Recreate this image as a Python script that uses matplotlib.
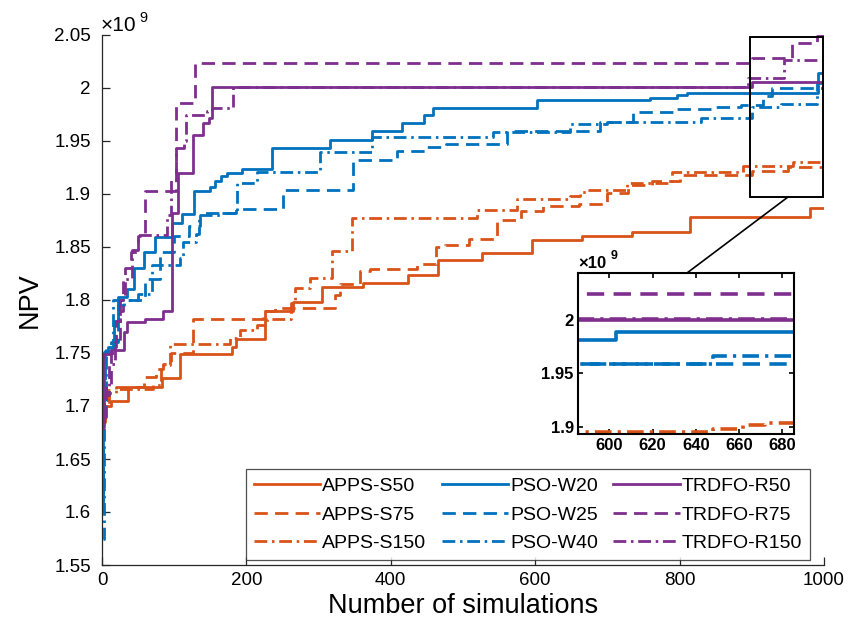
import matplotlib
matplotlib.use("Agg")
import matplotlib.pyplot as plt
from matplotlib.ticker import FuncFormatter, FixedLocator
from matplotlib.patches import Rectangle
from matplotlib.lines import Line2D

plt.rcParams['font.family'] = ['Liberation Sans', 'DejaVu Sans']

# ---------------- data (NPV in units of 1e9) ----------------
apps_s50_x = [1, 4, 13, 36, 83, 108, 180, 186, 226, 265, 305, 362, 424, 465, 526, 596, 665, 734, 814, 980]
apps_s50_y = [1.686, 1.700, 1.705, 1.7176, 1.726, 1.749, 1.756, 1.763, 1.790, 1.798, 1.812, 1.816, 1.824, 1.8377, 1.844, 1.857, 1.860, 1.8645, 1.878, 1.887]

apps_s75_x = [1, 3, 8, 20, 58, 75, 85, 95, 126, 223, 240, 323, 330, 357, 371, 436, 463, 475, 508, 547, 580, 611, 660, 699, 729, 762, 800, 900, 950]
apps_s75_y = [1.69, 1.70, 1.715, 1.718, 1.727, 1.735, 1.740, 1.750, 1.782, 1.790, 1.792, 1.805, 1.815, 1.827, 1.829, 1.834, 1.850, 1.852, 1.858, 1.8755, 1.884, 1.8887, 1.8906, 1.9006, 1.9085, 1.912, 1.918, 1.922, 1.9258]

apps_s150_x = [1, 4, 10, 20, 70, 82, 94, 177, 191, 214, 228, 262, 267, 288, 318, 346, 519, 575, 648, 662, 672, 727, 789, 888, 957]
apps_s150_y = [1.685, 1.700, 1.712, 1.716, 1.720, 1.739, 1.7585, 1.764, 1.772, 1.776, 1.782, 1.797, 1.811, 1.8208, 1.8465, 1.877, 1.8845, 1.8955, 1.898, 1.902, 1.9037, 1.9107, 1.921, 1.926, 1.9305]

pso_w20_x = [1, 2, 3, 8, 17, 22, 34, 45, 58, 73, 97, 111, 127, 150, 157, 165, 173, 194, 235, 316, 374, 415, 446, 458, 603, 759, 796, 810, 992]
pso_w20_y = [1.600, 1.680, 1.751, 1.7555, 1.780, 1.803, 1.810, 1.830, 1.845, 1.8597, 1.8724, 1.881, 1.903, 1.907, 1.912, 1.917, 1.9195, 1.924, 1.943, 1.951, 1.9597, 1.967, 1.9745, 1.981, 1.9887, 1.991, 1.993, 1.9956, 2.0138]

pso_w25_x = [1, 2, 4, 12, 22, 30, 60, 80, 100, 120, 136, 186, 251, 348, 408, 450, 477, 561, 690, 735, 795, 850, 885, 915, 928]
pso_w25_y = [1.610, 1.700, 1.752, 1.760, 1.795, 1.800, 1.820, 1.845, 1.860, 1.870, 1.882, 1.8856, 1.904, 1.932, 1.9406, 1.9445, 1.947, 1.959, 1.968, 1.977, 1.980, 1.982, 1.984, 1.992, 2.000]

pso_w40_x = [1, 3, 5, 15, 50, 69, 108, 112, 130, 135, 165, 187, 214, 302, 374, 541, 648, 700, 830, 900, 940, 990]
pso_w40_y = [1.575, 1.700, 1.755, 1.800, 1.8057, 1.833, 1.840, 1.855, 1.862, 1.880, 1.882, 1.910, 1.921, 1.940, 1.954, 1.9588, 1.9665, 1.968, 1.972, 1.982, 1.985, 2.005]

trdfo_r50_x = [1, 2, 3, 13, 30, 34, 60, 84, 96.5, 105, 126, 140, 148, 152, 900]
trdfo_r50_y = [1.679, 1.7466, 1.749, 1.7528, 1.770, 1.7795, 1.782, 1.790, 1.8824, 1.9195, 1.9557, 1.9667, 1.972, 2.0005, 2.006]

trdfo_r75_x = [1, 5, 12, 20, 25, 32, 40, 50, 59.6, 102, 129, 900, 955, 990]
trdfo_r75_y = [1.690, 1.720, 1.750, 1.780, 1.800, 1.830, 1.845, 1.860, 1.903, 1.986, 2.024, 2.028, 2.0427, 2.049]

trdfo_r150_x = [1, 3, 10, 18, 25, 29, 42, 50, 90, 95, 102, 114, 117, 145, 152, 182, 895, 945]
trdfo_r150_y = [1.685, 1.710, 1.740, 1.760, 1.790, 1.820, 1.847, 1.8613, 1.880, 1.913, 1.943, 1.950, 1.975, 1.978, 1.9808, 2.0012, 2.009, 2.026]

labels = ['APPS-S50', 'APPS-S75', 'APPS-S150',
          'PSO-W20', 'PSO-W25', 'PSO-W40',
          'TRDFO-R50', 'TRDFO-R75', 'TRDFO-R150']
xticks_main = [0, 200, 400, 600, 800, 1000]
yticks_main = [1.55, 1.6, 1.65, 1.7, 1.75, 1.8, 1.85, 1.9, 1.95, 2.0, 2.05]
xticks_inset = [600, 620, 640, 660, 680]
yticks_inset = [1.9, 1.95, 2.0]
# --------------------------------------------------------------

ORANGE = '#D95319'
BLUE = '#0072BD'
PURPLE = '#7E2F8E'
SOLID = '-'
DASH = (0, (4.8, 2.6))
DASHDOT = (0, (4.6, 1.7, 0.9, 1.7))

series = [
    (apps_s50_x, apps_s50_y, ORANGE, SOLID),
    (apps_s75_x, apps_s75_y, ORANGE, DASH),
    (apps_s150_x, apps_s150_y, ORANGE, DASHDOT),
    (pso_w20_x, pso_w20_y, BLUE, SOLID),
    (pso_w25_x, pso_w25_y, BLUE, DASH),
    (pso_w40_x, pso_w40_y, BLUE, DASHDOT),
    (trdfo_r50_x, trdfo_r50_y, PURPLE, SOLID),
    (trdfo_r75_x, trdfo_r75_y, PURPLE, DASH),
    (trdfo_r150_x, trdfo_r150_y, PURPLE, DASHDOT),
]

AXC = '#262626'
fig = plt.figure(figsize=(8.58, 6.34), dpi=100)
ax = fig.add_axes([102/858, 1 - 565/634, 722/858, 530/634])

LW = 2.0
for (xs, ys, c, ls), lab in zip(series, labels):
    xx = list(xs) + [1000]
    yy = list(ys) + [ys[-1]]
    ax.step(xx, yy, where='post', color=c, linestyle=ls, lw=LW, label=lab)

ax.set_xlim(0, 1000)
ax.set_ylim(1.55, 2.05)
ax.xaxis.set_major_locator(FixedLocator(xticks_main))
ax.yaxis.set_major_locator(FixedLocator(yticks_main))
fmt = FuncFormatter(lambda v, p: '%g' % round(v, 3))
ax.yaxis.set_major_formatter(fmt)
ax.xaxis.set_major_formatter(fmt)
for s in ['top', 'right']:
    ax.spines[s].set_visible(False)
for s in ['left', 'bottom']:
    ax.spines[s].set_color(AXC)
    ax.spines[s].set_linewidth(0.9)
ax.tick_params(direction='in', length=5.5, width=0.9, color=AXC, labelcolor='black',
               labelsize=13.5)
ax.tick_params(axis='x', pad=5)
ax.tick_params(axis='y', pad=8)
ax.set_xlabel('Number of simulations', fontsize=19.5, labelpad=3)
ax.set_ylabel('NPV', fontsize=19.5, labelpad=8)
ax.text(-0.002, 1.0, '\u00d710', transform=ax.transAxes, fontsize=15, ha='left', va='bottom')
ax.text(0.052, 1.018, '9', transform=ax.transAxes, fontsize=10.5, ha='left', va='bottom')

leg = ax.legend(ncol=3, loc='lower right', bbox_to_anchor=((810 - 102)/722, 5/530),
                fontsize=14, handlelength=3.4, columnspacing=0.8, handletextpad=0.1,
                labelspacing=0.55, borderpad=0.42, frameon=True, fancybox=False,
                borderaxespad=0)
leg.get_frame().set_edgecolor(AXC)
leg.get_frame().set_linewidth(0.9)

# zoom rectangle in main axes
rx0, rx1, ry0, ry1 = 898, 999, 1.8975, 2.0478
ax.add_patch(Rectangle((rx0, ry0), rx1 - rx0, ry1 - ry0, fill=False, ec='black', lw=1.4, zorder=5))

# inset
iax = fig.add_axes([578/858, 1 - 434/634, 216/858, 161/634])
for (xs, ys, c, ls), lab in zip(series, labels):
    xx = list(xs) + [1000]
    yy = list(ys) + [ys[-1]]
    iax.step(xx, yy, where='post', color=c, linestyle=ls, lw=2.6)
iax.set_xlim(585.5, 685.5)
iax.set_ylim(1.8932, 2.0441)
iax.xaxis.set_major_locator(FixedLocator(xticks_inset))
iax.yaxis.set_major_locator(FixedLocator(yticks_inset))
iax.xaxis.set_major_formatter(fmt)
iax.yaxis.set_major_formatter(fmt)
for s in iax.spines.values():
    s.set_linewidth(1.5)
    s.set_color('black')
iax.tick_params(direction='in', length=3.5, width=1.2, top=True, right=True,
                labelsize=12, pad=3)
for t in iax.get_xticklabels() + iax.get_yticklabels():
    t.set_fontweight('bold')
iax.text(0.0, 1.01, '\u00d710', transform=iax.transAxes, fontsize=12, fontweight='bold',
         ha='left', va='bottom')
iax.text(0.15, 1.07, '9', transform=iax.transAxes, fontsize=9, fontweight='bold',
         ha='left', va='bottom')

# connector line from rectangle to inset
con = Line2D([788/858, 687/858], [1 - 197/634, 1 - 273/634], transform=fig.transFigure,
             color='black', lw=1.2)
fig.lines.append(con)

fig.savefig('out.png', dpi=100)
